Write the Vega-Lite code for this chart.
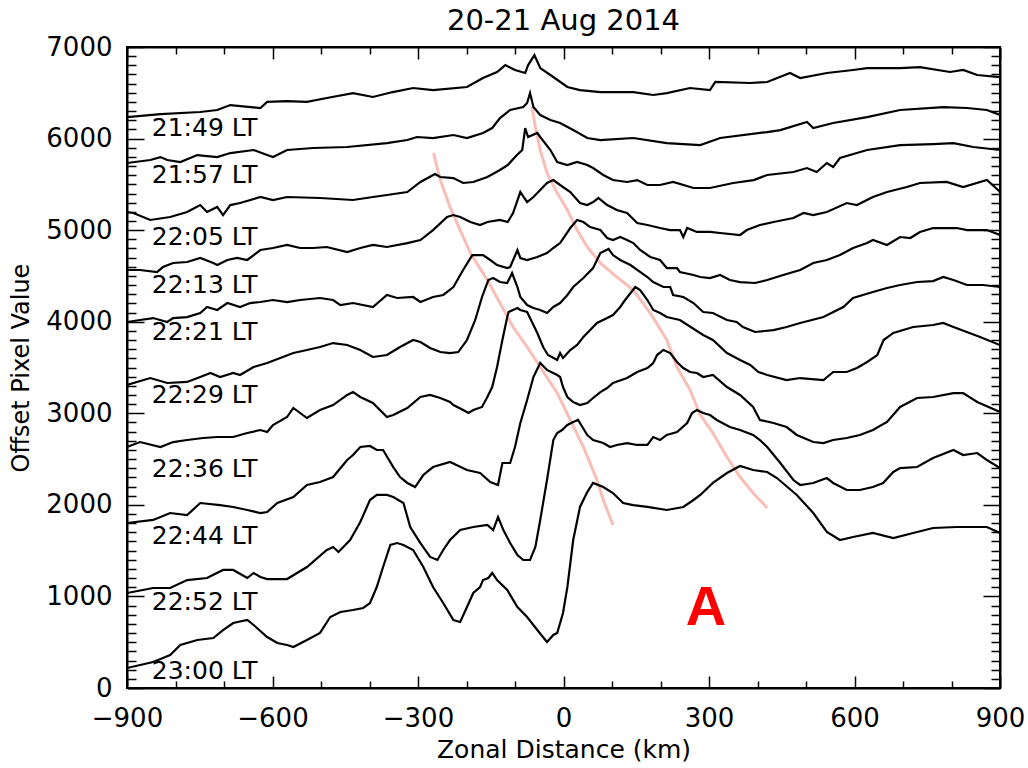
{
"$schema": "https://vega.github.io/schema/vega-lite/v6.json",
"width": 873,
"height": 641,
"autosize": {"type": "none"},
"padding": {"left": 127, "top": 47, "right": 28, "bottom": 80},
"background": "white",
"config": {
  "view": {"stroke": "black", "strokeWidth": 2},
  "font": "DejaVu Sans",
  "axis": {"domainColor": "black", "domainWidth": 2, "tickColor": "black", "tickWidth": 1.5, "grid": false, "labelColor": "black", "titleColor": "black", "labelFont": "DejaVu Sans", "titleFont": "DejaVu Sans", "titleFontWeight": "normal", "labelOverlap": false, "labelFlush": false, "labelBound": false}
},
"title": {"text": "20-21 Aug 2014", "fontSize": 29, "fontWeight": "normal", "font": "DejaVu Sans", "color": "black", "offset": -2, "anchor": "middle"},
"datasets": {
"pink": [
{"id":"p1","x":-268,"y":5842},{"id":"p1","x":-254,"y":5547},{"id":"p1","x":-234,"y":5253},{"id":"p1","x":-213,"y":5001},{"id":"p1","x":-192,"y":4750},{"id":"p1","x":-157,"y":4455},{"id":"p1","x":-131,"y":4204},{"id":"p1","x":-104,"y":3942},{"id":"p1","x":-75,"y":3724},{"id":"p1","x":-48,"y":3505},{"id":"p1","x":-13,"y":3221},{"id":"p1","x":14,"y":2927},{"id":"p1","x":41,"y":2632},{"id":"p1","x":69,"y":2271},{"id":"p1","x":82,"y":2053},{"id":"p1","x":102,"y":1780},
{"id":"p2","x":-65,"y":6344},{"id":"p2","x":-58,"y":6126},{"id":"p2","x":-48,"y":5875},{"id":"p2","x":-34,"y":5624},{"id":"p2","x":-13,"y":5405},{"id":"p2","x":8,"y":5220},{"id":"p2","x":28,"y":5001},{"id":"p2","x":49,"y":4816},{"id":"p2","x":76,"y":4641},{"id":"p2","x":110,"y":4488},{"id":"p2","x":144,"y":4346},{"id":"p2","x":179,"y":4095},{"id":"p2","x":213,"y":3800},{"id":"p2","x":234,"y":3505},{"id":"p2","x":261,"y":3254},{"id":"p2","x":282,"y":2981},{"id":"p2","x":308,"y":2785},{"id":"p2","x":337,"y":2523},{"id":"p2","x":364,"y":2304},{"id":"p2","x":391,"y":2129},{"id":"p2","x":420,"y":1966}
],
"labels": [
{"label":"21:49 LT","x":-849,"y":6115},{"label":"21:57 LT","x":-849,"y":5602},{"label":"22:05 LT","x":-849,"y":4928},{"label":"22:13 LT","x":-849,"y":4401},{"label":"22:21 LT","x":-849,"y":3891},{"label":"22:29 LT","x":-849,"y":3200},{"label":"22:36 LT","x":-849,"y":2391},{"label":"22:44 LT","x":-849,"y":1660},{"label":"22:52 LT","x":-849,"y":939},{"label":"23:00 LT","x":-849,"y":186}
],
"annot": [{"label":"A","x":294,"y":688}],
"curves": [
{"t":"c1","x":-900,"y":6235},{"t":"c1","x":-831,"y":6268},{"t":"c1","x":-749,"y":6290},{"t":"c1","x":-714,"y":6312},{"t":"c1","x":-687,"y":6366},{"t":"c1","x":-625,"y":6334},{"t":"c1","x":-611,"y":6400},{"t":"c1","x":-570,"y":6410},{"t":"c1","x":-529,"y":6400},{"t":"c1","x":-488,"y":6443},{"t":"c1","x":-434,"y":6497},{"t":"c1","x":-393,"y":6454},{"t":"c1","x":-352,"y":6508},{"t":"c1","x":-310,"y":6552},{"t":"c1","x":-269,"y":6530},{"t":"c1","x":-199,"y":6563},{"t":"c1","x":-166,"y":6661},{"t":"c1","x":-137,"y":6727},{"t":"c1","x":-120,"y":6803},{"t":"c1","x":-100,"y":6749},{"t":"c1","x":-79,"y":6716},{"t":"c1","x":-73,"y":6803},{"t":"c1","x":-60,"y":6912},{"t":"c1","x":-48,"y":6770},{"t":"c1","x":-27,"y":6694},{"t":"c1","x":8,"y":6563},{"t":"c1","x":34,"y":6530},{"t":"c1","x":76,"y":6508},{"t":"c1","x":144,"y":6508},{"t":"c1","x":185,"y":6476},{"t":"c1","x":213,"y":6497},{"t":"c1","x":261,"y":6552},{"t":"c1","x":302,"y":6530},{"t":"c1","x":313,"y":6618},{"t":"c1","x":385,"y":6607},{"t":"c1","x":420,"y":6618},{"t":"c1","x":467,"y":6716},{"t":"c1","x":488,"y":6661},{"t":"c1","x":543,"y":6716},{"t":"c1","x":597,"y":6749},{"t":"c1","x":626,"y":6770},{"t":"c1","x":694,"y":6770},{"t":"c1","x":735,"y":6781},{"t":"c1","x":797,"y":6727},{"t":"c1","x":824,"y":6749},{"t":"c1","x":853,"y":6694},{"t":"c1","x":900,"y":6672},
{"t":"c2","x":-900,"y":5733},{"t":"c2","x":-852,"y":5766},{"t":"c2","x":-831,"y":5798},{"t":"c2","x":-817,"y":5766},{"t":"c2","x":-790,"y":5744},{"t":"c2","x":-755,"y":5820},{"t":"c2","x":-714,"y":5798},{"t":"c2","x":-687,"y":5842},{"t":"c2","x":-639,"y":5875},{"t":"c2","x":-611,"y":5820},{"t":"c2","x":-599,"y":5798},{"t":"c2","x":-570,"y":5875},{"t":"c2","x":-516,"y":5897},{"t":"c2","x":-446,"y":5908},{"t":"c2","x":-364,"y":5951},{"t":"c2","x":-322,"y":5984},{"t":"c2","x":-302,"y":6017},{"t":"c2","x":-269,"y":6006},{"t":"c2","x":-227,"y":6039},{"t":"c2","x":-199,"y":6006},{"t":"c2","x":-166,"y":6061},{"t":"c2","x":-147,"y":6115},{"t":"c2","x":-131,"y":6224},{"t":"c2","x":-110,"y":6312},{"t":"c2","x":-83,"y":6344},{"t":"c2","x":-75,"y":6388},{"t":"c2","x":-69,"y":6497},{"t":"c2","x":-62,"y":6344},{"t":"c2","x":-48,"y":6257},{"t":"c2","x":-27,"y":6202},{"t":"c2","x":-7,"y":6170},{"t":"c2","x":20,"y":6093},{"t":"c2","x":49,"y":6006},{"t":"c2","x":76,"y":5984},{"t":"c2","x":144,"y":6006},{"t":"c2","x":213,"y":5951},{"t":"c2","x":282,"y":5929},{"t":"c2","x":323,"y":6006},{"t":"c2","x":420,"y":6071},{"t":"c2","x":447,"y":6093},{"t":"c2","x":502,"y":6181},{"t":"c2","x":515,"y":6115},{"t":"c2","x":556,"y":6170},{"t":"c2","x":626,"y":6235},{"t":"c2","x":694,"y":6312},{"t":"c2","x":783,"y":6344},{"t":"c2","x":832,"y":6334},{"t":"c2","x":873,"y":6312},{"t":"c2","x":900,"y":6257},
{"t":"c3","x":-900,"y":5198},{"t":"c3","x":-887,"y":5187},{"t":"c3","x":-852,"y":5111},{"t":"c3","x":-811,"y":5143},{"t":"c3","x":-776,"y":5198},{"t":"c3","x":-749,"y":5274},{"t":"c3","x":-735,"y":5198},{"t":"c3","x":-714,"y":5253},{"t":"c3","x":-702,"y":5165},{"t":"c3","x":-687,"y":5274},{"t":"c3","x":-667,"y":5296},{"t":"c3","x":-625,"y":5362},{"t":"c3","x":-599,"y":5329},{"t":"c3","x":-570,"y":5362},{"t":"c3","x":-502,"y":5351},{"t":"c3","x":-434,"y":5329},{"t":"c3","x":-393,"y":5362},{"t":"c3","x":-364,"y":5384},{"t":"c3","x":-322,"y":5416},{"t":"c3","x":-295,"y":5526},{"t":"c3","x":-265,"y":5613},{"t":"c3","x":-254,"y":5580},{"t":"c3","x":-227,"y":5569},{"t":"c3","x":-207,"y":5515},{"t":"c3","x":-186,"y":5526},{"t":"c3","x":-157,"y":5580},{"t":"c3","x":-131,"y":5657},{"t":"c3","x":-115,"y":5711},{"t":"c3","x":-96,"y":5820},{"t":"c3","x":-85,"y":5875},{"t":"c3","x":-79,"y":6115},{"t":"c3","x":-73,"y":6017},{"t":"c3","x":-54,"y":6061},{"t":"c3","x":-48,"y":6017},{"t":"c3","x":-27,"y":5875},{"t":"c3","x":-13,"y":5744},{"t":"c3","x":8,"y":5711},{"t":"c3","x":28,"y":5744},{"t":"c3","x":49,"y":5711},{"t":"c3","x":61,"y":5678},{"t":"c3","x":82,"y":5602},{"t":"c3","x":102,"y":5547},{"t":"c3","x":131,"y":5526},{"t":"c3","x":152,"y":5547},{"t":"c3","x":173,"y":5493},{"t":"c3","x":199,"y":5493},{"t":"c3","x":226,"y":5526},{"t":"c3","x":268,"y":5460},{"t":"c3","x":302,"y":5460},{"t":"c3","x":350,"y":5515},{"t":"c3","x":392,"y":5547},{"t":"c3","x":420,"y":5602},{"t":"c3","x":474,"y":5635},{"t":"c3","x":502,"y":5678},{"t":"c3","x":522,"y":5635},{"t":"c3","x":543,"y":5733},{"t":"c3","x":556,"y":5689},{"t":"c3","x":570,"y":5788},{"t":"c3","x":626,"y":5875},{"t":"c3","x":694,"y":5929},{"t":"c3","x":762,"y":5940},{"t":"c3","x":804,"y":5951},{"t":"c3","x":845,"y":5908},{"t":"c3","x":900,"y":5875},
{"t":"c4","x":-900,"y":4565},{"t":"c4","x":-873,"y":4565},{"t":"c4","x":-838,"y":4543},{"t":"c4","x":-826,"y":4597},{"t":"c4","x":-805,"y":4641},{"t":"c4","x":-776,"y":4652},{"t":"c4","x":-749,"y":4696},{"t":"c4","x":-722,"y":4641},{"t":"c4","x":-714,"y":4619},{"t":"c4","x":-693,"y":4674},{"t":"c4","x":-673,"y":4696},{"t":"c4","x":-652,"y":4674},{"t":"c4","x":-625,"y":4783},{"t":"c4","x":-599,"y":4805},{"t":"c4","x":-570,"y":4838},{"t":"c4","x":-543,"y":4805},{"t":"c4","x":-516,"y":4805},{"t":"c4","x":-488,"y":4816},{"t":"c4","x":-446,"y":4761},{"t":"c4","x":-419,"y":4805},{"t":"c4","x":-393,"y":4838},{"t":"c4","x":-364,"y":4816},{"t":"c4","x":-322,"y":4859},{"t":"c4","x":-295,"y":4892},{"t":"c4","x":-269,"y":5001},{"t":"c4","x":-240,"y":5143},{"t":"c4","x":-227,"y":5165},{"t":"c4","x":-213,"y":5143},{"t":"c4","x":-192,"y":5089},{"t":"c4","x":-172,"y":5056},{"t":"c4","x":-157,"y":5089},{"t":"c4","x":-131,"y":5111},{"t":"c4","x":-115,"y":5089},{"t":"c4","x":-104,"y":5187},{"t":"c4","x":-89,"y":5416},{"t":"c4","x":-75,"y":5307},{"t":"c4","x":-62,"y":5362},{"t":"c4","x":-48,"y":5438},{"t":"c4","x":-34,"y":5515},{"t":"c4","x":-21,"y":5547},{"t":"c4","x":-7,"y":5493},{"t":"c4","x":14,"y":5416},{"t":"c4","x":34,"y":5296},{"t":"c4","x":49,"y":5274},{"t":"c4","x":61,"y":5307},{"t":"c4","x":72,"y":5351},{"t":"c4","x":90,"y":5274},{"t":"c4","x":110,"y":5220},{"t":"c4","x":131,"y":5187},{"t":"c4","x":152,"y":5078},{"t":"c4","x":173,"y":5056},{"t":"c4","x":199,"y":5023},{"t":"c4","x":220,"y":5001},{"t":"c4","x":240,"y":5001},{"t":"c4","x":247,"y":4925},{"t":"c4","x":255,"y":5023},{"t":"c4","x":275,"y":4980},{"t":"c4","x":302,"y":4980},{"t":"c4","x":323,"y":4969},{"t":"c4","x":364,"y":4947},{"t":"c4","x":378,"y":5001},{"t":"c4","x":405,"y":5056},{"t":"c4","x":433,"y":5089},{"t":"c4","x":474,"y":5132},{"t":"c4","x":495,"y":5187},{"t":"c4","x":515,"y":5165},{"t":"c4","x":543,"y":5198},{"t":"c4","x":584,"y":5296},{"t":"c4","x":605,"y":5274},{"t":"c4","x":638,"y":5362},{"t":"c4","x":667,"y":5416},{"t":"c4","x":708,"y":5471},{"t":"c4","x":735,"y":5515},{"t":"c4","x":790,"y":5526},{"t":"c4","x":824,"y":5471},{"t":"c4","x":873,"y":5547},{"t":"c4","x":896,"y":5438},{"t":"c4","x":900,"y":5416},
{"t":"c5","x":-900,"y":3997},{"t":"c5","x":-873,"y":4019},{"t":"c5","x":-846,"y":4040},{"t":"c5","x":-817,"y":3997},{"t":"c5","x":-805,"y":4040},{"t":"c5","x":-776,"y":4051},{"t":"c5","x":-749,"y":4095},{"t":"c5","x":-735,"y":4161},{"t":"c5","x":-714,"y":4128},{"t":"c5","x":-693,"y":4204},{"t":"c5","x":-667,"y":4161},{"t":"c5","x":-646,"y":4204},{"t":"c5","x":-625,"y":4215},{"t":"c5","x":-599,"y":4237},{"t":"c5","x":-570,"y":4215},{"t":"c5","x":-543,"y":4237},{"t":"c5","x":-502,"y":4259},{"t":"c5","x":-475,"y":4237},{"t":"c5","x":-460,"y":4182},{"t":"c5","x":-434,"y":4204},{"t":"c5","x":-393,"y":4161},{"t":"c5","x":-364,"y":4292},{"t":"c5","x":-343,"y":4259},{"t":"c5","x":-310,"y":4270},{"t":"c5","x":-295,"y":4215},{"t":"c5","x":-269,"y":4270},{"t":"c5","x":-248,"y":4292},{"t":"c5","x":-227,"y":4379},{"t":"c5","x":-207,"y":4565},{"t":"c5","x":-188,"y":4728},{"t":"c5","x":-166,"y":4728},{"t":"c5","x":-151,"y":4674},{"t":"c5","x":-137,"y":4619},{"t":"c5","x":-116,"y":4586},{"t":"c5","x":-110,"y":4597},{"t":"c5","x":-95,"y":4783},{"t":"c5","x":-89,"y":4696},{"t":"c5","x":-75,"y":4674},{"t":"c5","x":-54,"y":4707},{"t":"c5","x":-34,"y":4750},{"t":"c5","x":-21,"y":4805},{"t":"c5","x":-7,"y":4859},{"t":"c5","x":14,"y":5023},{"t":"c5","x":28,"y":5111},{"t":"c5","x":41,"y":5089},{"t":"c5","x":55,"y":5034},{"t":"c5","x":76,"y":5001},{"t":"c5","x":90,"y":4914},{"t":"c5","x":102,"y":4892},{"t":"c5","x":117,"y":4925},{"t":"c5","x":131,"y":4892},{"t":"c5","x":144,"y":4859},{"t":"c5","x":158,"y":4783},{"t":"c5","x":179,"y":4707},{"t":"c5","x":199,"y":4674},{"t":"c5","x":213,"y":4586},{"t":"c5","x":234,"y":4586},{"t":"c5","x":240,"y":4543},{"t":"c5","x":268,"y":4510},{"t":"c5","x":282,"y":4488},{"t":"c5","x":302,"y":4477},{"t":"c5","x":323,"y":4510},{"t":"c5","x":343,"y":4455},{"t":"c5","x":364,"y":4433},{"t":"c5","x":395,"y":4423},{"t":"c5","x":420,"y":4455},{"t":"c5","x":453,"y":4510},{"t":"c5","x":488,"y":4565},{"t":"c5","x":515,"y":4641},{"t":"c5","x":543,"y":4674},{"t":"c5","x":570,"y":4728},{"t":"c5","x":597,"y":4805},{"t":"c5","x":626,"y":4859},{"t":"c5","x":638,"y":4892},{"t":"c5","x":667,"y":4838},{"t":"c5","x":694,"y":4925},{"t":"c5","x":715,"y":4914},{"t":"c5","x":735,"y":4980},{"t":"c5","x":762,"y":5023},{"t":"c5","x":811,"y":5023},{"t":"c5","x":832,"y":5001},{"t":"c5","x":873,"y":5001},{"t":"c5","x":900,"y":4947},
{"t":"c6","x":-900,"y":3309},{"t":"c6","x":-852,"y":3385},{"t":"c6","x":-817,"y":3331},{"t":"c6","x":-776,"y":3342},{"t":"c6","x":-749,"y":3396},{"t":"c6","x":-728,"y":3440},{"t":"c6","x":-708,"y":3396},{"t":"c6","x":-681,"y":3440},{"t":"c6","x":-667,"y":3418},{"t":"c6","x":-639,"y":3505},{"t":"c6","x":-611,"y":3549},{"t":"c6","x":-584,"y":3604},{"t":"c6","x":-557,"y":3658},{"t":"c6","x":-529,"y":3691},{"t":"c6","x":-502,"y":3724},{"t":"c6","x":-475,"y":3767},{"t":"c6","x":-446,"y":3746},{"t":"c6","x":-419,"y":3691},{"t":"c6","x":-393,"y":3615},{"t":"c6","x":-364,"y":3636},{"t":"c6","x":-337,"y":3724},{"t":"c6","x":-310,"y":3800},{"t":"c6","x":-295,"y":3778},{"t":"c6","x":-275,"y":3713},{"t":"c6","x":-254,"y":3669},{"t":"c6","x":-234,"y":3658},{"t":"c6","x":-217,"y":3669},{"t":"c6","x":-199,"y":3800},{"t":"c6","x":-182,"y":4019},{"t":"c6","x":-168,"y":4270},{"t":"c6","x":-155,"y":4455},{"t":"c6","x":-145,"y":4477},{"t":"c6","x":-131,"y":4434},{"t":"c6","x":-116,"y":4423},{"t":"c6","x":-106,"y":4532},{"t":"c6","x":-95,"y":4379},{"t":"c6","x":-89,"y":4270},{"t":"c6","x":-75,"y":4182},{"t":"c6","x":-62,"y":4150},{"t":"c6","x":-48,"y":4128},{"t":"c6","x":-34,"y":4095},{"t":"c6","x":-21,"y":4161},{"t":"c6","x":-7,"y":4204},{"t":"c6","x":8,"y":4292},{"t":"c6","x":20,"y":4379},{"t":"c6","x":41,"y":4477},{"t":"c6","x":61,"y":4586},{"t":"c6","x":76,"y":4750},{"t":"c6","x":93,"y":4794},{"t":"c6","x":102,"y":4728},{"t":"c6","x":117,"y":4674},{"t":"c6","x":138,"y":4619},{"t":"c6","x":152,"y":4565},{"t":"c6","x":173,"y":4488},{"t":"c6","x":185,"y":4434},{"t":"c6","x":206,"y":4379},{"t":"c6","x":220,"y":4379},{"t":"c6","x":226,"y":4292},{"t":"c6","x":247,"y":4270},{"t":"c6","x":268,"y":4204},{"t":"c6","x":288,"y":4106},{"t":"c6","x":308,"y":4095},{"t":"c6","x":337,"y":4019},{"t":"c6","x":357,"y":3997},{"t":"c6","x":370,"y":3942},{"t":"c6","x":395,"y":3888},{"t":"c6","x":433,"y":3909},{"t":"c6","x":460,"y":3942},{"t":"c6","x":488,"y":3986},{"t":"c6","x":536,"y":4051},{"t":"c6","x":577,"y":4161},{"t":"c6","x":597,"y":4259},{"t":"c6","x":638,"y":4324},{"t":"c6","x":667,"y":4368},{"t":"c6","x":694,"y":4401},{"t":"c6","x":729,"y":4434},{"t":"c6","x":762,"y":4444},{"t":"c6","x":783,"y":4488},{"t":"c6","x":804,"y":4455},{"t":"c6","x":832,"y":4401},{"t":"c6","x":865,"y":4401},{"t":"c6","x":900,"y":4379},
{"t":"c7","x":-900,"y":2632},{"t":"c7","x":-873,"y":2686},{"t":"c7","x":-831,"y":2632},{"t":"c7","x":-805,"y":2686},{"t":"c7","x":-776,"y":2708},{"t":"c7","x":-743,"y":2730},{"t":"c7","x":-714,"y":2741},{"t":"c7","x":-681,"y":2741},{"t":"c7","x":-652,"y":2785},{"t":"c7","x":-625,"y":2817},{"t":"c7","x":-611,"y":2795},{"t":"c7","x":-599,"y":2872},{"t":"c7","x":-570,"y":2959},{"t":"c7","x":-557,"y":3058},{"t":"c7","x":-529,"y":2948},{"t":"c7","x":-502,"y":3036},{"t":"c7","x":-475,"y":3090},{"t":"c7","x":-446,"y":3200},{"t":"c7","x":-434,"y":3232},{"t":"c7","x":-419,"y":3178},{"t":"c7","x":-393,"y":3112},{"t":"c7","x":-364,"y":2959},{"t":"c7","x":-351,"y":2981},{"t":"c7","x":-322,"y":3058},{"t":"c7","x":-295,"y":3178},{"t":"c7","x":-275,"y":3200},{"t":"c7","x":-254,"y":3167},{"t":"c7","x":-234,"y":3123},{"t":"c7","x":-227,"y":3090},{"t":"c7","x":-207,"y":3036},{"t":"c7","x":-196,"y":3003},{"t":"c7","x":-186,"y":3036},{"t":"c7","x":-168,"y":3069},{"t":"c7","x":-157,"y":3178},{"t":"c7","x":-147,"y":3287},{"t":"c7","x":-137,"y":3505},{"t":"c7","x":-126,"y":3800},{"t":"c7","x":-116,"y":4051},{"t":"c7","x":-113,"y":4106},{"t":"c7","x":-95,"y":4150},{"t":"c7","x":-89,"y":4128},{"t":"c7","x":-75,"y":4106},{"t":"c7","x":-65,"y":3997},{"t":"c7","x":-54,"y":3877},{"t":"c7","x":-42,"y":3724},{"t":"c7","x":-32,"y":3636},{"t":"c7","x":-13,"y":3582},{"t":"c7","x":-7,"y":3658},{"t":"c7","x":-1,"y":3604},{"t":"c7","x":14,"y":3691},{"t":"c7","x":28,"y":3746},{"t":"c7","x":41,"y":3833},{"t":"c7","x":55,"y":3909},{"t":"c7","x":69,"y":3986},{"t":"c7","x":90,"y":4040},{"t":"c7","x":102,"y":4073},{"t":"c7","x":117,"y":4161},{"t":"c7","x":127,"y":4237},{"t":"c7","x":148,"y":4379},{"t":"c7","x":158,"y":4346},{"t":"c7","x":173,"y":4237},{"t":"c7","x":185,"y":4128},{"t":"c7","x":199,"y":4095},{"t":"c7","x":213,"y":4051},{"t":"c7","x":240,"y":4019},{"t":"c7","x":288,"y":3855},{"t":"c7","x":308,"y":3800},{"t":"c7","x":337,"y":3658},{"t":"c7","x":364,"y":3582},{"t":"c7","x":385,"y":3527},{"t":"c7","x":402,"y":3451},{"t":"c7","x":420,"y":3418},{"t":"c7","x":460,"y":3363},{"t":"c7","x":488,"y":3385},{"t":"c7","x":536,"y":3363},{"t":"c7","x":556,"y":3451},{"t":"c7","x":584,"y":3451},{"t":"c7","x":605,"y":3494},{"t":"c7","x":626,"y":3560},{"t":"c7","x":647,"y":3636},{"t":"c7","x":660,"y":3800},{"t":"c7","x":680,"y":3877},{"t":"c7","x":721,"y":3942},{"t":"c7","x":762,"y":3964},{"t":"c7","x":783,"y":3986},{"t":"c7","x":804,"y":3942},{"t":"c7","x":859,"y":3833},{"t":"c7","x":900,"y":3745},
{"t":"c8","x":-900,"y":1802},{"t":"c8","x":-846,"y":1835},{"t":"c8","x":-811,"y":1911},{"t":"c8","x":-776,"y":1889},{"t":"c8","x":-749,"y":2020},{"t":"c8","x":-708,"y":1998},{"t":"c8","x":-681,"y":1977},{"t":"c8","x":-652,"y":1944},{"t":"c8","x":-625,"y":1911},{"t":"c8","x":-611,"y":1922},{"t":"c8","x":-590,"y":2020},{"t":"c8","x":-557,"y":2086},{"t":"c8","x":-529,"y":2217},{"t":"c8","x":-502,"y":2250},{"t":"c8","x":-475,"y":2304},{"t":"c8","x":-446,"y":2490},{"t":"c8","x":-434,"y":2544},{"t":"c8","x":-419,"y":2632},{"t":"c8","x":-399,"y":2643},{"t":"c8","x":-385,"y":2599},{"t":"c8","x":-372,"y":2599},{"t":"c8","x":-351,"y":2413},{"t":"c8","x":-337,"y":2304},{"t":"c8","x":-322,"y":2239},{"t":"c8","x":-306,"y":2195},{"t":"c8","x":-289,"y":2326},{"t":"c8","x":-269,"y":2413},{"t":"c8","x":-234,"y":2468},{"t":"c8","x":-199,"y":2381},{"t":"c8","x":-172,"y":2348},{"t":"c8","x":-151,"y":2250},{"t":"c8","x":-135,"y":2217},{"t":"c8","x":-126,"y":2457},{"t":"c8","x":-110,"y":2457},{"t":"c8","x":-100,"y":2632},{"t":"c8","x":-89,"y":2894},{"t":"c8","x":-75,"y":3145},{"t":"c8","x":-62,"y":3396},{"t":"c8","x":-48,"y":3549},{"t":"c8","x":-34,"y":3473},{"t":"c8","x":-13,"y":3418},{"t":"c8","x":-7,"y":3396},{"t":"c8","x":-1,"y":3287},{"t":"c8","x":8,"y":3178},{"t":"c8","x":20,"y":3123},{"t":"c8","x":34,"y":3090},{"t":"c8","x":49,"y":3112},{"t":"c8","x":61,"y":3167},{"t":"c8","x":76,"y":3232},{"t":"c8","x":90,"y":3276},{"t":"c8","x":102,"y":3331},{"t":"c8","x":131,"y":3385},{"t":"c8","x":152,"y":3451},{"t":"c8","x":173,"y":3494},{"t":"c8","x":185,"y":3549},{"t":"c8","x":193,"y":3636},{"t":"c8","x":206,"y":3691},{"t":"c8","x":220,"y":3658},{"t":"c8","x":234,"y":3560},{"t":"c8","x":247,"y":3494},{"t":"c8","x":261,"y":3451},{"t":"c8","x":275,"y":3440},{"t":"c8","x":288,"y":3396},{"t":"c8","x":308,"y":3418},{"t":"c8","x":337,"y":3287},{"t":"c8","x":364,"y":3200},{"t":"c8","x":391,"y":3069},{"t":"c8","x":405,"y":2927},{"t":"c8","x":433,"y":2894},{"t":"c8","x":460,"y":2850},{"t":"c8","x":481,"y":2763},{"t":"c8","x":515,"y":2686},{"t":"c8","x":536,"y":2675},{"t":"c8","x":556,"y":2708},{"t":"c8","x":584,"y":2730},{"t":"c8","x":611,"y":2763},{"t":"c8","x":638,"y":2817},{"t":"c8","x":667,"y":2905},{"t":"c8","x":694,"y":3069},{"t":"c8","x":729,"y":3167},{"t":"c8","x":762,"y":3178},{"t":"c8","x":804,"y":3221},{"t":"c8","x":824,"y":3221},{"t":"c8","x":853,"y":3123},{"t":"c8","x":900,"y":3014},
{"t":"c9","x":-900,"y":1037},{"t":"c9","x":-846,"y":1092},{"t":"c9","x":-811,"y":1092},{"t":"c9","x":-776,"y":1179},{"t":"c9","x":-735,"y":1201},{"t":"c9","x":-702,"y":1289},{"t":"c9","x":-681,"y":1289},{"t":"c9","x":-652,"y":1201},{"t":"c9","x":-639,"y":1256},{"t":"c9","x":-625,"y":1212},{"t":"c9","x":-611,"y":1190},{"t":"c9","x":-570,"y":1190},{"t":"c9","x":-529,"y":1321},{"t":"c9","x":-488,"y":1507},{"t":"c9","x":-475,"y":1540},{"t":"c9","x":-464,"y":1485},{"t":"c9","x":-440,"y":1616},{"t":"c9","x":-419,"y":1813},{"t":"c9","x":-399,"y":2053},{"t":"c9","x":-385,"y":2108},{"t":"c9","x":-364,"y":2108},{"t":"c9","x":-351,"y":2086},{"t":"c9","x":-330,"y":2020},{"t":"c9","x":-316,"y":1758},{"t":"c9","x":-295,"y":1583},{"t":"c9","x":-275,"y":1431},{"t":"c9","x":-260,"y":1398},{"t":"c9","x":-248,"y":1507},{"t":"c9","x":-234,"y":1616},{"t":"c9","x":-213,"y":1725},{"t":"c9","x":-186,"y":1758},{"t":"c9","x":-157,"y":1780},{"t":"c9","x":-145,"y":1725},{"t":"c9","x":-135,"y":1867},{"t":"c9","x":-124,"y":1725},{"t":"c9","x":-110,"y":1583},{"t":"c9","x":-95,"y":1452},{"t":"c9","x":-83,"y":1398},{"t":"c9","x":-69,"y":1398},{"t":"c9","x":-58,"y":1540},{"t":"c9","x":-48,"y":1835},{"t":"c9","x":-34,"y":2271},{"t":"c9","x":-21,"y":2708},{"t":"c9","x":-13,"y":2785},{"t":"c9","x":-3,"y":2817},{"t":"c9","x":8,"y":2872},{"t":"c9","x":20,"y":2905},{"t":"c9","x":30,"y":2927},{"t":"c9","x":39,"y":2850},{"t":"c9","x":49,"y":2763},{"t":"c9","x":61,"y":2708},{"t":"c9","x":82,"y":2675},{"t":"c9","x":96,"y":2632},{"t":"c9","x":110,"y":2654},{"t":"c9","x":131,"y":2675},{"t":"c9","x":152,"y":2654},{"t":"c9","x":173,"y":2654},{"t":"c9","x":185,"y":2741},{"t":"c9","x":199,"y":2708},{"t":"c9","x":213,"y":2763},{"t":"c9","x":234,"y":2795},{"t":"c9","x":255,"y":2894},{"t":"c9","x":265,"y":3003},{"t":"c9","x":275,"y":3036},{"t":"c9","x":288,"y":3003},{"t":"c9","x":302,"y":2981},{"t":"c9","x":316,"y":2927},{"t":"c9","x":343,"y":2850},{"t":"c9","x":364,"y":2817},{"t":"c9","x":391,"y":2763},{"t":"c9","x":405,"y":2708},{"t":"c9","x":420,"y":2632},{"t":"c9","x":447,"y":2457},{"t":"c9","x":474,"y":2271},{"t":"c9","x":488,"y":2217},{"t":"c9","x":515,"y":2239},{"t":"c9","x":543,"y":2293},{"t":"c9","x":556,"y":2239},{"t":"c9","x":584,"y":2162},{"t":"c9","x":611,"y":2162},{"t":"c9","x":638,"y":2195},{"t":"c9","x":659,"y":2239},{"t":"c9","x":680,"y":2359},{"t":"c9","x":694,"y":2402},{"t":"c9","x":729,"y":2413},{"t":"c9","x":762,"y":2512},{"t":"c9","x":804,"y":2599},{"t":"c9","x":824,"y":2544},{"t":"c9","x":853,"y":2566},{"t":"c9","x":873,"y":2490},{"t":"c9","x":900,"y":2402},
{"t":"c10","x":-900,"y":218},{"t":"c10","x":-846,"y":284},{"t":"c10","x":-811,"y":360},{"t":"c10","x":-790,"y":470},{"t":"c10","x":-755,"y":524},{"t":"c10","x":-722,"y":546},{"t":"c10","x":-702,"y":633},{"t":"c10","x":-681,"y":710},{"t":"c10","x":-652,"y":743},{"t":"c10","x":-639,"y":688},{"t":"c10","x":-611,"y":557},{"t":"c10","x":-590,"y":491},{"t":"c10","x":-570,"y":470},{"t":"c10","x":-557,"y":448},{"t":"c10","x":-529,"y":524},{"t":"c10","x":-502,"y":601},{"t":"c10","x":-481,"y":775},{"t":"c10","x":-460,"y":830},{"t":"c10","x":-434,"y":852},{"t":"c10","x":-413,"y":874},{"t":"c10","x":-399,"y":928},{"t":"c10","x":-385,"y":1103},{"t":"c10","x":-372,"y":1321},{"t":"c10","x":-357,"y":1562},{"t":"c10","x":-343,"y":1583},{"t":"c10","x":-330,"y":1562},{"t":"c10","x":-310,"y":1507},{"t":"c10","x":-289,"y":1321},{"t":"c10","x":-269,"y":1103},{"t":"c10","x":-248,"y":928},{"t":"c10","x":-227,"y":743},{"t":"c10","x":-213,"y":721},{"t":"c10","x":-199,"y":885},{"t":"c10","x":-186,"y":1037},{"t":"c10","x":-172,"y":1103},{"t":"c10","x":-166,"y":1179},{"t":"c10","x":-155,"y":1201},{"t":"c10","x":-147,"y":1256},{"t":"c10","x":-137,"y":1179},{"t":"c10","x":-116,"y":1070},{"t":"c10","x":-95,"y":885},{"t":"c10","x":-75,"y":775},{"t":"c10","x":-54,"y":633},{"t":"c10","x":-34,"y":502},{"t":"c10","x":-21,"y":579},{"t":"c10","x":-13,"y":601},{"t":"c10","x":-1,"y":819},{"t":"c10","x":8,"y":1103},{"t":"c10","x":20,"y":1616},{"t":"c10","x":34,"y":1977},{"t":"c10","x":49,"y":2140},{"t":"c10","x":61,"y":2239},{"t":"c10","x":82,"y":2195},{"t":"c10","x":102,"y":2129},{"t":"c10","x":123,"y":2020},{"t":"c10","x":144,"y":1998},{"t":"c10","x":173,"y":1977},{"t":"c10","x":213,"y":1944},{"t":"c10","x":247,"y":1977},{"t":"c10","x":268,"y":2053},{"t":"c10","x":282,"y":2108},{"t":"c10","x":308,"y":2239},{"t":"c10","x":337,"y":2348},{"t":"c10","x":364,"y":2424},{"t":"c10","x":391,"y":2381},{"t":"c10","x":420,"y":2359},{"t":"c10","x":440,"y":2293},{"t":"c10","x":481,"y":2108},{"t":"c10","x":515,"y":1911},{"t":"c10","x":543,"y":1704},{"t":"c10","x":570,"y":1616},{"t":"c10","x":597,"y":1649},{"t":"c10","x":638,"y":1693},{"t":"c10","x":680,"y":1638},{"t":"c10","x":721,"y":1693},{"t":"c10","x":762,"y":1747},{"t":"c10","x":811,"y":1758},{"t":"c10","x":873,"y":1758},{"t":"c10","x":900,"y":1693}
]
},
"layer": [
{
  "data": {"name": "pink"},
  "mark": {"type": "line", "color": "#f9beb5", "strokeWidth": 3},
  "encoding": {
    "x": {"field": "x", "type": "quantitative", "scale": {"domain": [-900, 900], "nice": false},
      "axis": {"orient": "top", "values": [-900,-800,-700,-600,-500,-400,-300,-200,-100,0,100,200,300,400,500,600,700,800,900], "labels": false, "title": null,
        "tickSize": {"condition": {"test": "datum.value % 300 === 0", "value": -12}, "value": -7}}},
    "y": {"field": "y", "type": "quantitative", "scale": {"domain": [0, 7000], "nice": false, "zero": false},
      "axis": {"orient": "right", "values": [0,100,200,300,400,500,600,700,800,900,1000,1100,1200,1300,1400,1500,1600,1700,1800,1900,2000,2100,2200,2300,2400,2500,2600,2700,2800,2900,3000,3100,3200,3300,3400,3500,3600,3700,3800,3900,4000,4100,4200,4300,4400,4500,4600,4700,4800,4900,5000,5100,5200,5300,5400,5500,5600,5700,5800,5900,6000,6100,6200,6300,6400,6500,6600,6700,6800,6900,7000], "labels": false, "title": null,
        "tickSize": {"condition": {"test": "datum.value % 1000 === 0", "value": -17}, "value": -9}}},
    "detail": {"field": "id"}
  }
},
{
  "data": {"name": "curves"},
  "mark": {"type": "line", "color": "black", "strokeWidth": 2.2, "clip": true},
  "encoding": {
    "x": {"field": "x", "type": "quantitative", "scale": {"domain": [-900, 900], "nice": false},
      "axis": {"orient": "bottom", "values": [-900,-800,-700,-600,-500,-400,-300,-200,-100,0,100,200,300,400,500,600,700,800,900], "format": "d",
        "labelExpr": "datum.value % 300 === 0 ? datum.label : ''", "labelFontSize": 26, "labelPadding": 29,
        "title": "Zonal Distance (km)", "titleFontSize": 25, "titlePadding": 1,
        "tickSize": {"condition": {"test": "datum.value % 300 === 0", "value": -12}, "value": -7}}},
    "y": {"field": "y", "type": "quantitative", "scale": {"domain": [0, 7000], "nice": false, "zero": false},
      "axis": {"orient": "left", "values": [0,100,200,300,400,500,600,700,800,900,1000,1100,1200,1300,1400,1500,1600,1700,1800,1900,2000,2100,2200,2300,2400,2500,2600,2700,2800,2900,3000,3100,3200,3300,3400,3500,3600,3700,3800,3900,4000,4100,4200,4300,4400,4500,4600,4700,4800,4900,5000,5100,5200,5300,5400,5500,5600,5700,5800,5900,6000,6100,6200,6300,6400,6500,6600,6700,6800,6900,7000], "format": "d",
        "labelExpr": "datum.value % 1000 === 0 ? datum.label : ''", "labelFontSize": 26, "labelPadding": 32,
        "title": "Offset Pixel Value", "titleFontSize": 24, "titlePadding": 12,
        "tickSize": {"condition": {"test": "datum.value % 1000 === 0", "value": -17}, "value": -9}}},
    "detail": {"field": "t"}
  }
},
{
  "data": {"name": "labels"},
  "mark": {"type": "text", "align": "left", "baseline": "middle", "fontSize": 25, "font": "DejaVu Sans", "color": "black"},
  "encoding": {
    "x": {"field": "x", "type": "quantitative", "axis": null},
    "y": {"field": "y", "type": "quantitative", "axis": null},
    "text": {"field": "label"}
  }
},
{
  "data": {"name": "annot"},
  "mark": {"type": "text", "align": "center", "baseline": "alphabetic", "fontSize": 56, "font": "Liberation Sans", "fontWeight": "bold", "color": "#ff0000"},
  "encoding": {
    "x": {"field": "x", "type": "quantitative", "axis": null},
    "y": {"field": "y", "type": "quantitative", "axis": null},
    "text": {"field": "label"}
  }
}
],
"resolve": {"axis": {"x": "independent", "y": "independent"}}
}
